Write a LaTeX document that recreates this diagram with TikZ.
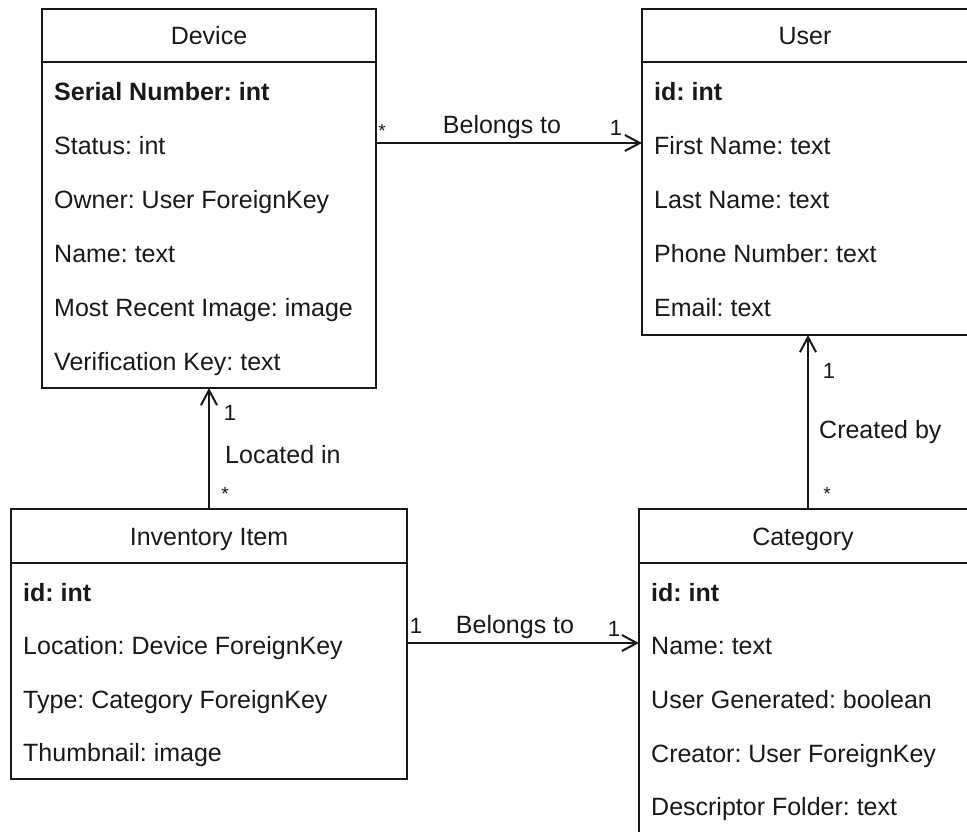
\documentclass[tikz,border=0pt]{standalone}
\usepackage{fontspec}
\setmainfont{Liberation Sans}
\usetikzlibrary{arrows.meta}
\frenchspacing
\begin{document}
\begin{tikzpicture}[x=1pt,y=-1pt,
  every node/.style={font=\frenchspacing\fontsize{25}{30}\selectfont, text=black!90},
  classbox/.style={draw=black!90, line width=2pt, anchor=north west, inner sep=0pt, outer sep=0pt},
  hdr/.style={anchor=base, inner sep=0pt},
  row/.style={anchor=base west, inner sep=0pt},
  lbl/.style={anchor=base, inner sep=0pt},
  mult/.style={anchor=base, inner sep=0pt, font=\fontsize{22}{26}\selectfont},
  star/.style={anchor=center, inner sep=0pt, font=\fontsize{19}{20}\selectfont},
  sep/.style={draw=black!90, line width=2pt},
  assoc/.style={draw=black!90, line width=2pt, -{Straight Barb[length=15pt,width=16pt,line width=2pt]}}
]
\useasboundingbox (0,0) rectangle (967,831);
\clip (0,0) rectangle (967,831);
\fill[white] (0,0) rectangle (967,831);

% Device
\node[classbox, minimum width=334pt, minimum height=379pt] (dev) at (42,9) {};
\draw[sep] ([yshift=-53pt]dev.north west) -- ([yshift=-53pt]dev.north east);
\node[hdr] (devT) at (209,44) {Device};
\node[row] (dev1) at (54,100) {\bfseries Serial Number: int};
\node[row] (dev2) at (54,154) {Status: int};
\node[row] (dev3) at (54,208) {Owner: User ForeignKey};
\node[row] (dev4) at (54,262) {Name: text};
\node[row] (dev5) at (54,316) {Most Recent Image: image};
\node[row] (dev6) at (54,370) {Verification Key: text};

% User
\node[classbox, minimum width=340pt, minimum height=326pt] (usr) at (642,9) {};
\draw[sep] ([yshift=-53pt]usr.north west) -- ([yshift=-53pt]usr.north east);
\node[hdr] (usrT) at (805,44) {User};
\node[row] (usr1) at (654,100) {\bfseries id: int};
\node[row] (usr2) at (654,154) {First Name: text};
\node[row] (usr3) at (654,208) {Last Name: text};
\node[row] (usr4) at (654,262) {Phone Number: text};
\node[row] (usr5) at (654,316) {Email: text};

% Inventory Item
\node[classbox, minimum width=396pt, minimum height=270pt] (inv) at (11,509) {};
\draw[sep] ([yshift=-54pt]inv.north west) -- ([yshift=-54pt]inv.north east);
\node[hdr] (invT) at (209,545) {Inventory Item};
\node[row] (inv1) at (23,601) {\bfseries id: int};
\node[row] (inv2) at (23,654) {Location: Device ForeignKey};
\node[row] (inv3) at (23,708) {Type: Category ForeignKey};
\node[row] (inv4) at (23,761) {Thumbnail: image};

% Category
\node[classbox, minimum width=345pt, minimum height=340pt] (cat) at (639,509) {};
\draw[sep] ([yshift=-54pt]cat.north west) -- ([yshift=-54pt]cat.north east);
\node[hdr] (catT) at (803,545) {Category};
\node[row] (cat1) at (651,601) {\bfseries id: int};
\node[row] (cat2) at (651,654) {Name: text};
\node[row] (cat3) at (651,708) {User Generated: boolean};
\node[row] (cat4) at (651,762) {Creator: User ForeignKey};
\node[row] (cat5) at (651,815) {Descriptor Folder: text};

% Device -> User
\draw[assoc] ([yshift=-134pt]dev.north east) -- ([yshift=-134pt]usr.north west);
\node[lbl] (l1) at (502,133) {Belongs to};
\node[star] (l1a) at (382,131) {*};
\node[mult] (l1b) at (616,135) {1};

% Inventory -> Device
\draw[assoc] (inv.north) -- (dev.south);
\node[lbl, anchor=base west] (l2) at (225,463) {Located in};
\node[mult] (l2a) at (230,420) {1};
\node[star] (l2b) at (225,494) {*};

% Category -> User
\draw[assoc] ([xshift=169pt]cat.north west) -- ([xshift=166pt]usr.south west);
\node[lbl, anchor=base west] (l3) at (819,438) {Created by};
\node[mult] (l3a) at (829,378) {1};
\node[star] (l3b) at (827,494) {*};

% Inventory -> Category
\draw[assoc] ([yshift=-134pt]inv.north east) -- ([yshift=-134pt]cat.north west);
\node[lbl] (l4) at (515,633) {Belongs to};
\node[mult] (l4a) at (416,633) {1};
\node[mult] (l4b) at (614,636) {1};
\end{tikzpicture}
\end{document}
